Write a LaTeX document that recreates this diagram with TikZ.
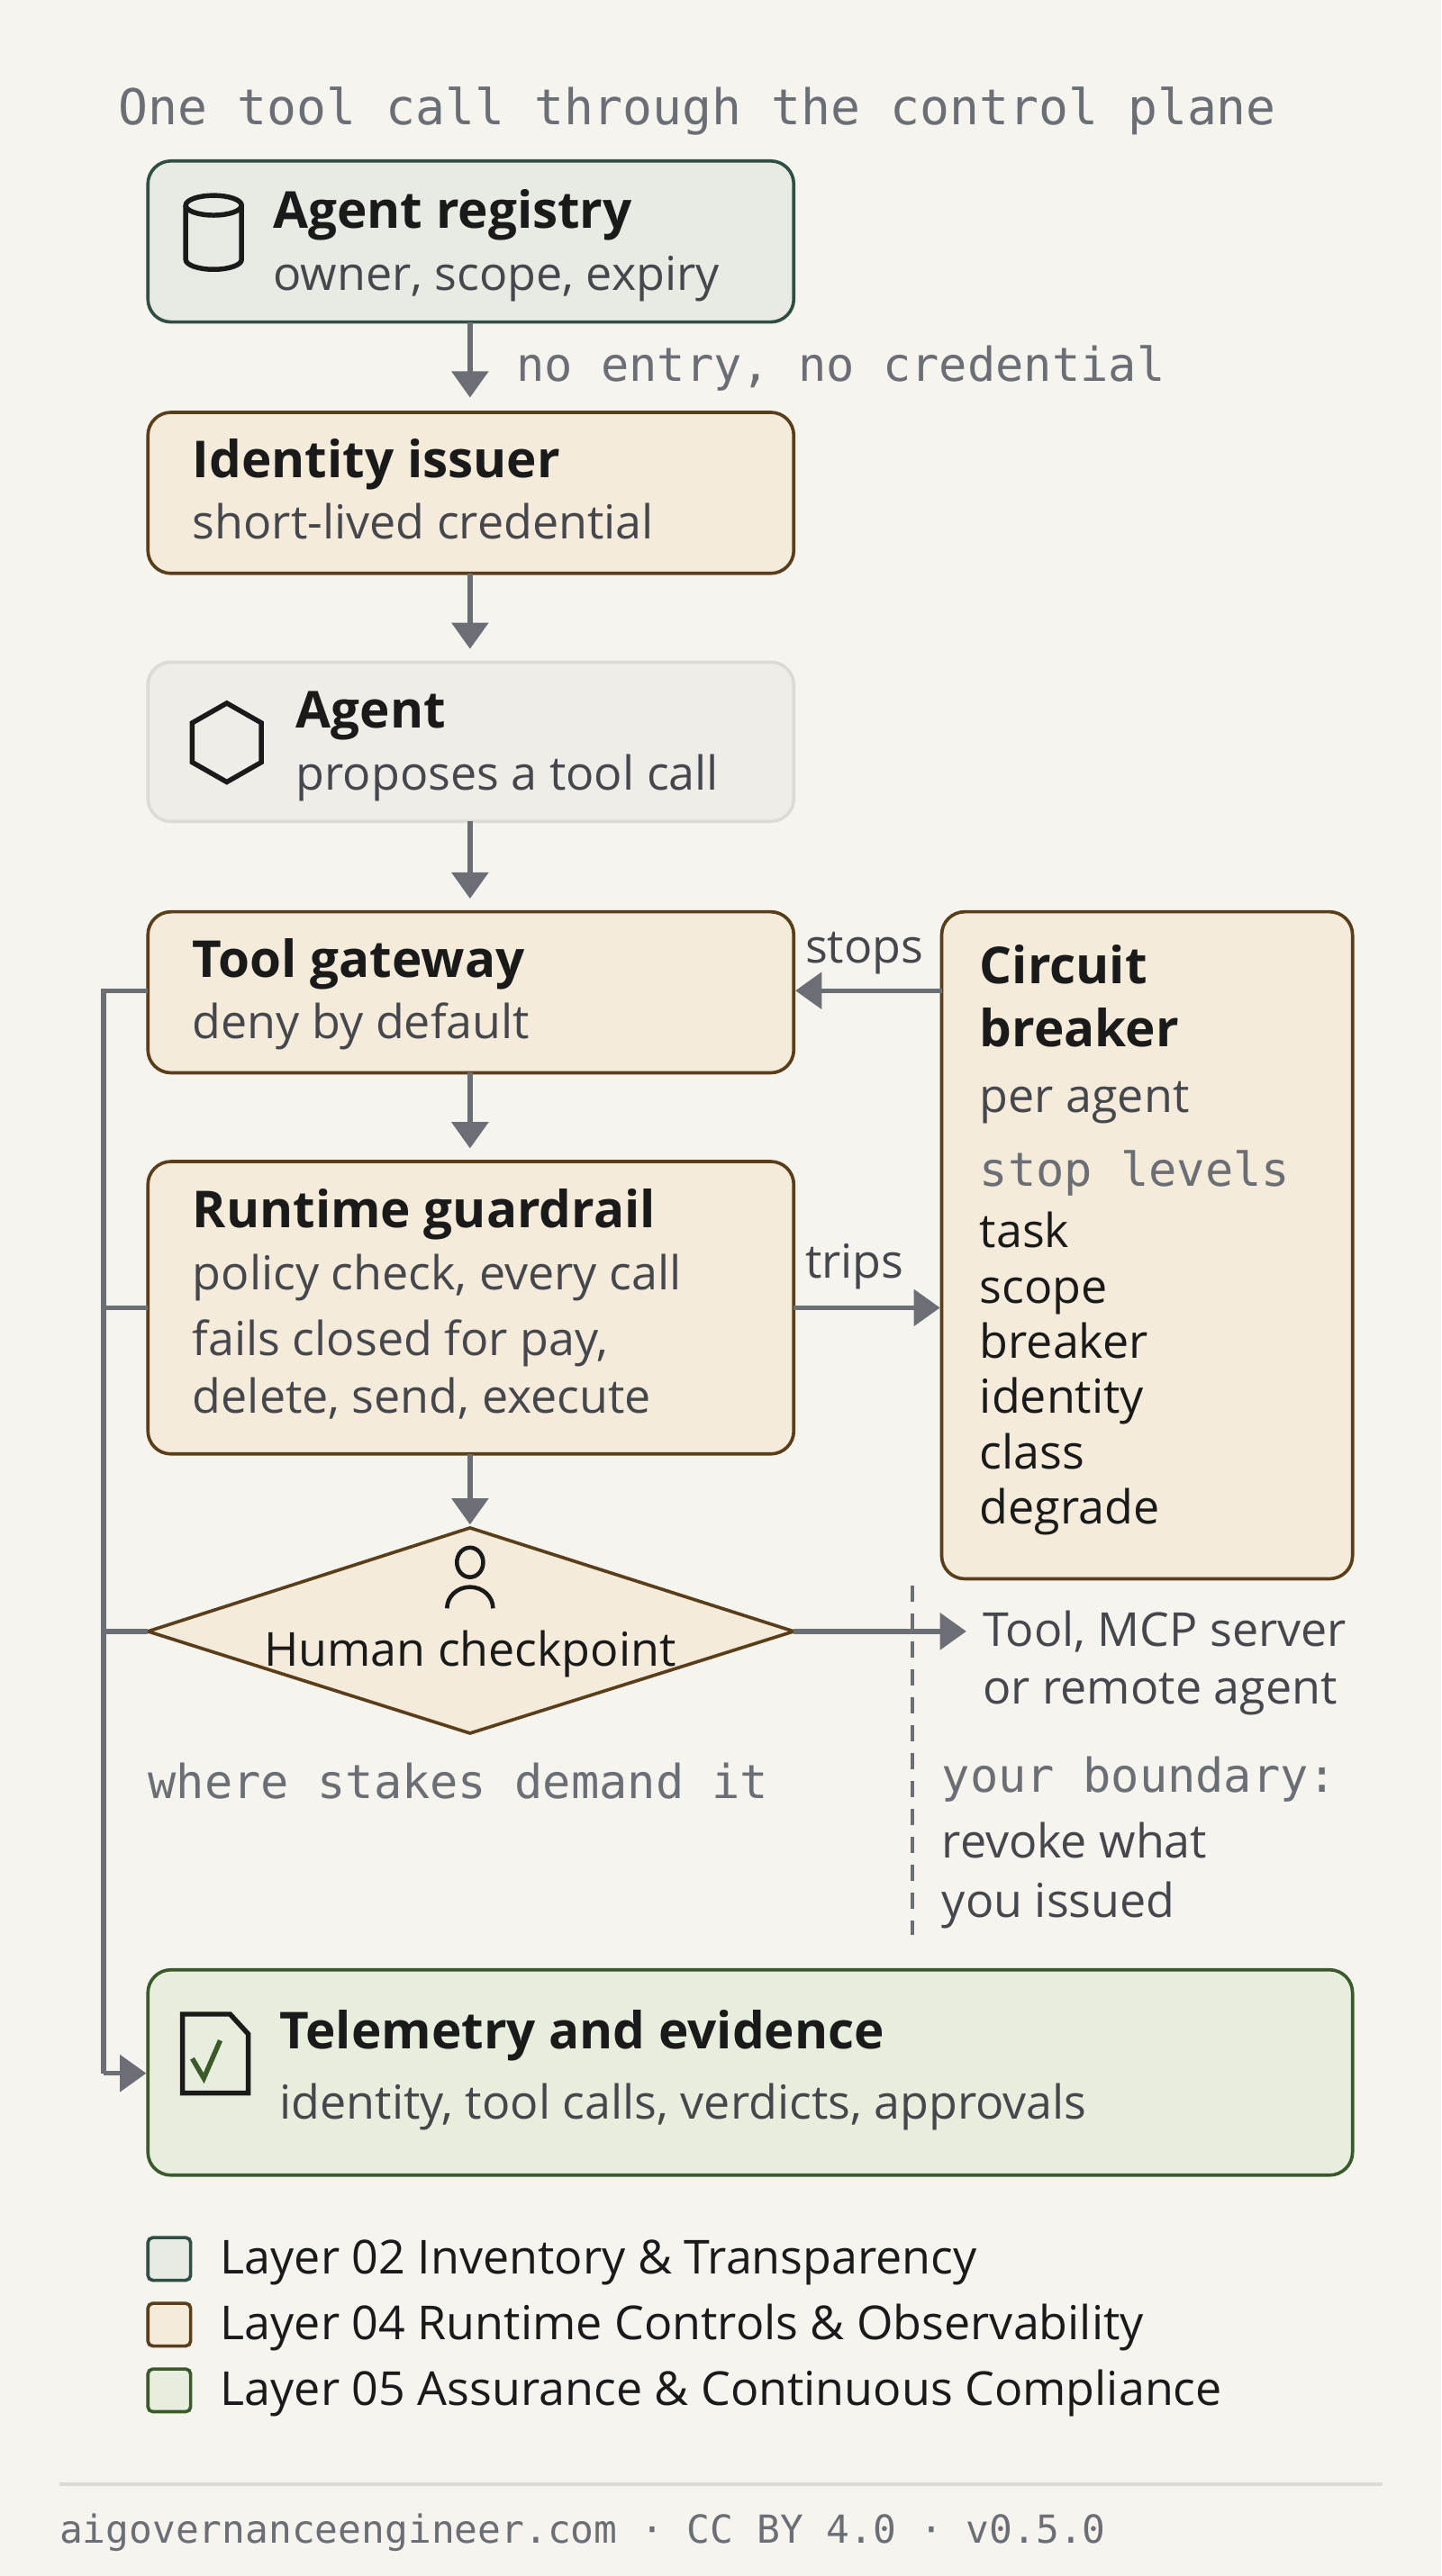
\documentclass[tikz,border=0pt]{standalone}
\usepackage{fontspec}
\setmainfont{Open Sans}
\newfontfamily\monof{DejaVu Sans Mono}
\usetikzlibrary{arrows.meta}
\definecolor{bg}{HTML}{F5F4EF}
\definecolor{ink}{HTML}{1A1A1A}
\definecolor{sub}{HTML}{45474D}
\definecolor{mono}{HTML}{6B6E75}
\definecolor{regf}{HTML}{E8EBE4}\definecolor{regd}{HTML}{2F4F46}
\definecolor{rtf}{HTML}{F4EBDB}\definecolor{rtd}{HTML}{5A3E1A}
\definecolor{agf}{HTML}{EEEDE8}\definecolor{agd}{HTML}{DCDBD5}
\definecolor{asf}{HTML}{E8EEDD}\definecolor{asd}{HTML}{3B5A2A}
\tikzset{
 box/.style={rounded corners=14pt,line width=2pt},
 reg/.style={box,fill=regf,draw=regd},
 rt/.style={box,fill=rtf,draw=rtd},
 ag/.style={box,fill=agf,draw=agd},
 as/.style={box,fill=asf,draw=asd},
 ttl/.style={anchor=base west,inner sep=0,text=ink,font=\fontsize{31}{36}\selectfont\bfseries},
 st/.style={anchor=base west,inner sep=0,text=sub,font=\fontsize{28.5}{32}\selectfont},
 lst/.style={anchor=base west,inner sep=0,text=ink,font=\fontsize{28.5}{32}\selectfont},
 mn/.style={anchor=base west,inner sep=0,text=mono,font=\fontsize{28.5}{34}\monof},
 arr/.style={draw=mono,line width=3pt,-{Triangle[length=16pt,width=22pt]}},
 ln/.style={draw=mono,line width=3pt},
 ic/.style={draw=ink,line width=3pt},
}
\begin{document}
\begin{tikzpicture}[x=1pt,y=-1pt]
\fill[bg] (0,0) rectangle (877,1568);
\useasboundingbox (0,0) rectangle (877,1568);
\node[mn,font=\fontsize{30}{34}\monof] (title) at (72,76) {One tool call through the control plane};
% boxes
\draw[reg] (90,98) rectangle (483,196);
\draw[ic] (113,125) -- (113,158) arc[start angle=180,end angle=0,x radius=17,y radius=6] -- (147,125);
\draw[ic] (130,125) ellipse[x radius=17,y radius=6];
\node[ttl] (regt) at (166,139) {Agent registry};
\node[st] (regs) at (166,177) {owner, scope, expiry};

\draw[rt] (90,251) rectangle (483,349);
\node[ttl] (idt) at (117,291) {Identity issuer};
\node[st] (ids) at (117,328) {short-lived credential};

\draw[ag] (90,403) rectangle (483,500);
\draw[ic] (138,428)--(159,440)--(159,464)--(138,476)--(117,464)--(117,440)--cycle;
\node[ttl] (agt) at (180,443) {Agent};
\node[st] (ags) at (180,481) {proposes a tool call};

\draw[rt] (90,555) rectangle (483,653);
\node[ttl] (gwt) at (117,595) {Tool gateway};
\node[st] (gws) at (117,632) {deny by default};

\draw[rt] (90,707) rectangle (483,885);
\node[ttl] (rtt) at (117,747) {Runtime guardrail};
\node[st] (rts1) at (117,785) {policy check, every call};
\node[st] (rts2) at (117,825) {fails closed for pay,};
\node[st] (rts3) at (117,860) {delete, send, execute};

\draw[rt] (573,555) rectangle (823,961);
\node[ttl] (cbt1) at (596,599) {Circuit};
\node[ttl] (cbt2) at (596,637) {breaker};
\node[st] (cbs) at (596,677) {per agent};
\node[mn] (cbm) at (596,722) {stop levels};
\foreach \t [count=\i] in {task,scope,breaker,identity,class,degrade}
  \node[lst] at (596,726+\i*33.6) {\t};

\draw[rtd,fill=rtf,line width=2pt] (90,993)--(286,930)--(483,993)--(286,1055)--cycle;
\draw[ic,line width=2.5pt] (286,951) ellipse[x radius=8,y radius=9];
\draw[ic,line width=2.5pt] (272,979) arc[start angle=180,end angle=360,x radius=14,y radius=13];
\node[anchor=base,inner sep=0,text=ink,font=\fontsize{28.5}{32}\selectfont] (hc) at (286,1014) {Human checkpoint};

\node[mn] (wst) at (90,1095) {where stakes demand it};
\node[st] (tool1) at (598,1002) {Tool, MCP server};
\node[st] (tool2) at (598,1037) {or remote agent};
\draw[mono,line width=2pt,dash pattern=on 10pt off 7pt] (555,965) -- (555,1178);
\node[mn] (yb) at (573,1091) {your boundary:};
\node[st] (rv1) at (573,1131) {revoke what};
\node[st] (rv2) at (573,1167) {you issued};

\draw[as] (90,1199) rectangle (823,1324);
\draw[ic] (111,1226) -- (140,1226) -- (151,1238) -- (151,1274) -- (111,1274) -- cycle;
\draw[asd,line width=3pt] (117,1253) -- (124,1265) -- (134,1242);
\node[ttl] (tet) at (170,1247) {Telemetry and evidence};
\node[st] (tes) at (170,1290) {identity, tool calls, verdicts, approvals};

% arrows
\draw[arr] (286,196) -- (286,242);
\node[mn] (ne) at (314,232) {no entry, no credential};
\draw[arr] (286,349) -- (286,395);
\draw[arr] (286,500) -- (286,547);
\draw[arr] (286,653) -- (286,699);
\draw[arr] (286,885) -- (286,928);
\draw[arr] (573,603) -- (484,603);
\node[anchor=base,inner sep=0,text=sub,font=\fontsize{28.5}{32}\selectfont] (stops) at (526,586) {stops};
\draw[arr] (483,796) -- (572,796);
\node[anchor=base,inner sep=0,text=sub,font=\fontsize{28.5}{32}\selectfont] (trips) at (520,778) {trips};
\draw[arr] (483,993) -- (588,993);
\draw[ln] (90,603) -- (63,603) -- (63,1262);
\draw[ln] (90,796) -- (63,796);
\draw[ln] (90,993) -- (63,993);
\draw[arr] (63,1262) -- (89,1262);

% legend
\foreach \y/\f/\d/\t in {1362/regf/regd/{Layer 02 Inventory \& Transparency},1402/rtf/rtd/{Layer 04 Runtime Controls \& Observability},1442/asf/asd/{Layer 05 Assurance \& Continuous Compliance}}{
  \draw[fill=\f,draw=\d,line width=2pt,rounded corners=3pt] (90,\y) rectangle (116,\y+26);
  \node[lst] at (134,\y+22) {\t};
}
\draw[draw=agd,line width=2pt] (36,1512) -- (841,1512);
\node[mn,font=\fontsize{23.5}{28}\monof] (foot) at (36,1548) {aigovernanceengineer.com · CC BY 4.0 · v0.5.0};
\end{tikzpicture}
\end{document}
